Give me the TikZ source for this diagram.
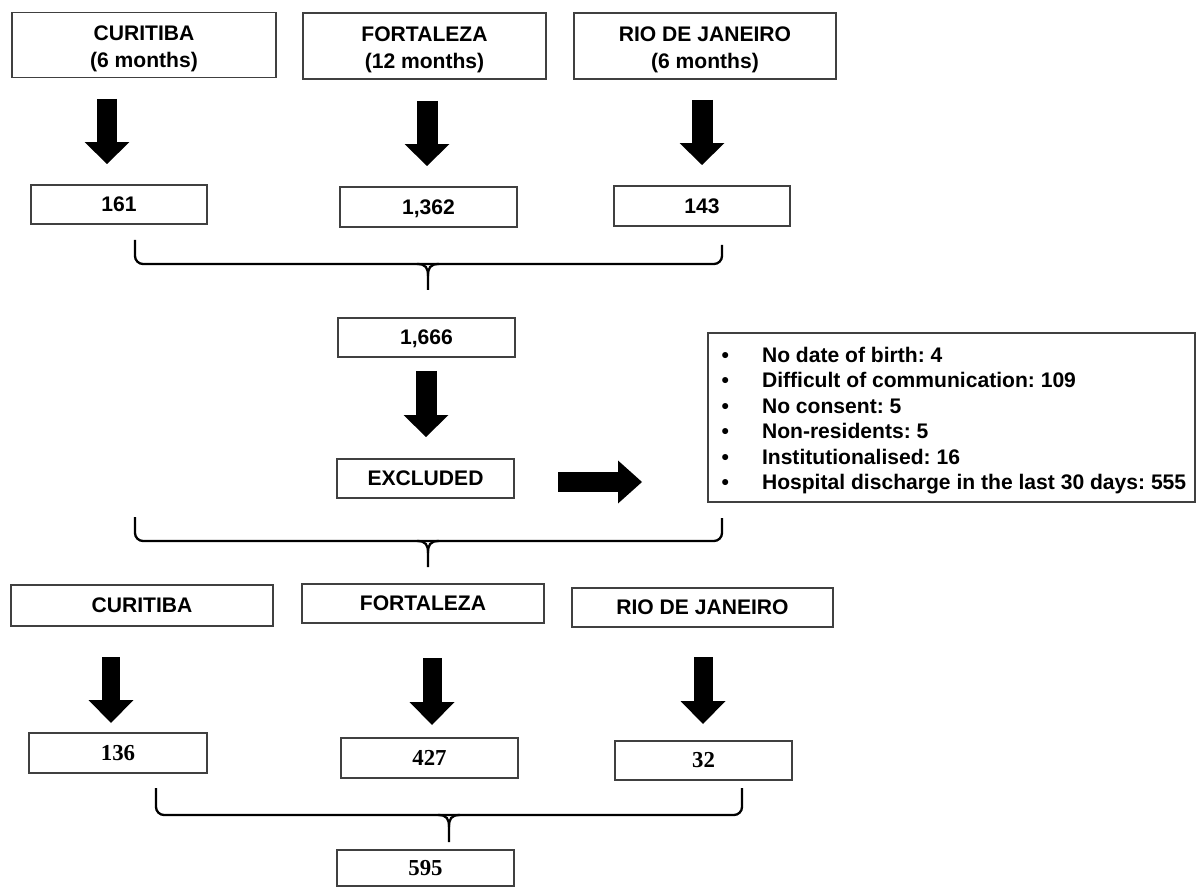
\documentclass[tikz,border=0pt]{standalone}
\usepackage{fontspec}
\setmainfont{Liberation Sans}
\newfontfamily\numserif{Liberation Serif}
\usetikzlibrary{arrows.meta}
\frenchspacing
\newcommand{\twolines}[2]{\raisebox{-2pt}[\height][\depth]{\begin{tabular}{@{}c@{}}#1\\[1pt]#2\end{tabular}}}
\begin{document}
\begin{tikzpicture}[x=0.02cm,y=-0.02cm,
  box/.style={draw=black!75, line width=0.8pt, fill=white, inner sep=0pt, align=center,
    font=\bfseries\fontsize{12}{14.4}\selectfont},
  numbox/.style={box, font=\numserif\bfseries\fontsize{13}{15}\selectfont},
  listbox/.style={draw=black!75, line width=0.8pt, inner sep=0pt,
    font=\bfseries\fontsize{12}{14.5}\selectfont},
  fatdown/.style={line width=0.42cm, -{Triangle[width=0.9cm,length=0.44cm,line width=0pt]}},
  fatdownb/.style={line width=0.38cm, -{Triangle[width=0.9cm,length=0.46cm,line width=0pt]}},
  fatright/.style={line width=0.40cm, -{Triangle[width=0.86cm,length=0.48cm,line width=0pt]}},
  brace/.style={line width=1.3pt, rounded corners=0.16cm},
  spike/.style={line width=1.3pt}
]
\useasboundingbox (0,0) rectangle (1197,888);

% ---- top row
\node[box, minimum width=5.28cm, minimum height=1.30cm] (c1) at (144,45) {\twolines{CURITIBA}{(6 months)}};
\node[box, minimum width=4.86cm, minimum height=1.32cm] (f1) at (424.5,46) {\twolines{FORTALEZA}{(12 months)}};
\node[box, minimum width=5.24cm, minimum height=1.32cm] (r1) at (705,46) {\twolines{RIO DE JANEIRO}{(6 months)}};

% ---- counts
\node[box, minimum width=3.52cm, minimum height=0.78cm] (n161) at (119,204.5) {161};
\node[box, minimum width=3.54cm, minimum height=0.80cm, text depth=0pt] (n1362) at (428.5,207) {1,362};
\node[box, minimum width=3.52cm, minimum height=0.80cm] (n143) at (702,206) {143};

% ---- arrows top
\coordinate (a1s) at (107,99);  \coordinate (a1e) at (107,164);
\coordinate (a2s) at (427,101); \coordinate (a2e) at (427,166);
\coordinate (a3s) at (702,100); \coordinate (a3e) at (702,165);
\draw[fatdown] (a1s) -- (a1e);
\draw[fatdown] (a2s) -- (a2e);
\draw[fatdown] (a3s) -- (a3e);

% ---- brace 1
\coordinate (b1l) at (135,240); \coordinate (b1r) at (722,245); \coordinate (b1t) at (428,290);
\draw[brace] (b1l) -- (135,264) -- (722,264) -- (b1r);
\draw[spike] (417,264) .. controls (426,264) and (428,268) .. (428,276) -- (b1t);
\draw[spike] (439,264) .. controls (430,264) and (428,268) .. (428,276);

% ---- total and exclusion
\node[box, minimum width=3.54cm, minimum height=0.78cm, text depth=0pt] (n1666) at (426.5,337.5) {1,666};
\coordinate (a4s) at (426,371); \coordinate (a4e) at (426,437);
\draw[fatdown] (a4s) -- (a4e);
\node[box, minimum width=3.54cm, minimum height=0.78cm] (excl) at (425.5,478.5) {EXCLUDED};
\coordinate (a5s) at (558,482); \coordinate (a5e) at (642,482);
\draw[fatright] (a5s) -- (a5e);
\node[listbox, minimum width=9.74cm, minimum height=3.38cm] (reasons) at (951.5,417.5) {%
\makebox[9.74cm][l]{\hspace{0.27cm}\raisebox{-2pt}[\height][\depth]{\begin{tabular}{@{}p{0.81cm}@{}l@{}}
• & No date of birth: 4\\
• & Difficult of communication: 109\\
• & No consent: 5\\
• & Non-residents: 5\\
• & Institutionalised: 16\\
• & Hospital discharge in the last 30 days: 555
\end{tabular}}}};

% ---- brace 2
\coordinate (b2l) at (135,517); \coordinate (b2r) at (722,518); \coordinate (b2t) at (428,567);
\draw[brace] (b2l) -- (135,541) -- (722,541) -- (b2r);
\draw[spike] (417,541) .. controls (426,541) and (428,545) .. (428,553) -- (b2t);
\draw[spike] (439,541) .. controls (430,541) and (428,545) .. (428,553);

% ---- bottom row
\node[box, minimum width=5.24cm, minimum height=0.82cm] (c2) at (142,605.5) {CURITIBA};
\node[box, minimum width=4.84cm, minimum height=0.78cm] (f2) at (423,603.5) {FORTALEZA};
\node[box, minimum width=5.22cm, minimum height=0.78cm] (r2) at (702.5,607.5) {RIO DE JANEIRO};

\coordinate (a6s) at (111,657); \coordinate (a6e) at (111,723);
\coordinate (a7s) at (432,658); \coordinate (a7e) at (432,725);
\coordinate (a8s) at (703,657); \coordinate (a8e) at (703,724);
\draw[fatdownb] (a6s) -- (a6e);
\draw[fatdownb] (a7s) -- (a7e);
\draw[fatdownb] (a8s) -- (a8e);

\node[numbox, minimum width=3.56cm, minimum height=0.80cm] (n136) at (118,753) {136};
\node[numbox, minimum width=3.54cm, minimum height=0.80cm] (n427) at (429.5,758) {427};
\node[numbox, minimum width=3.54cm, minimum height=0.78cm] (n32) at (703.5,760.5) {32};

% ---- brace 3
\coordinate (b3l) at (156,788); \coordinate (b3r) at (742,788); \coordinate (b3t) at (449,842);
\draw[brace] (b3l) -- (156,815) -- (742,815) -- (b3r);
\draw[spike] (438,815) .. controls (447,815) and (449,819) .. (449,827) -- (b3t);
\draw[spike] (460,815) .. controls (451,815) and (449,819) .. (449,827);

\node[numbox, minimum width=3.54cm, minimum height=0.72cm] (n595) at (425.5,868) {595};
\end{tikzpicture}
\end{document}
